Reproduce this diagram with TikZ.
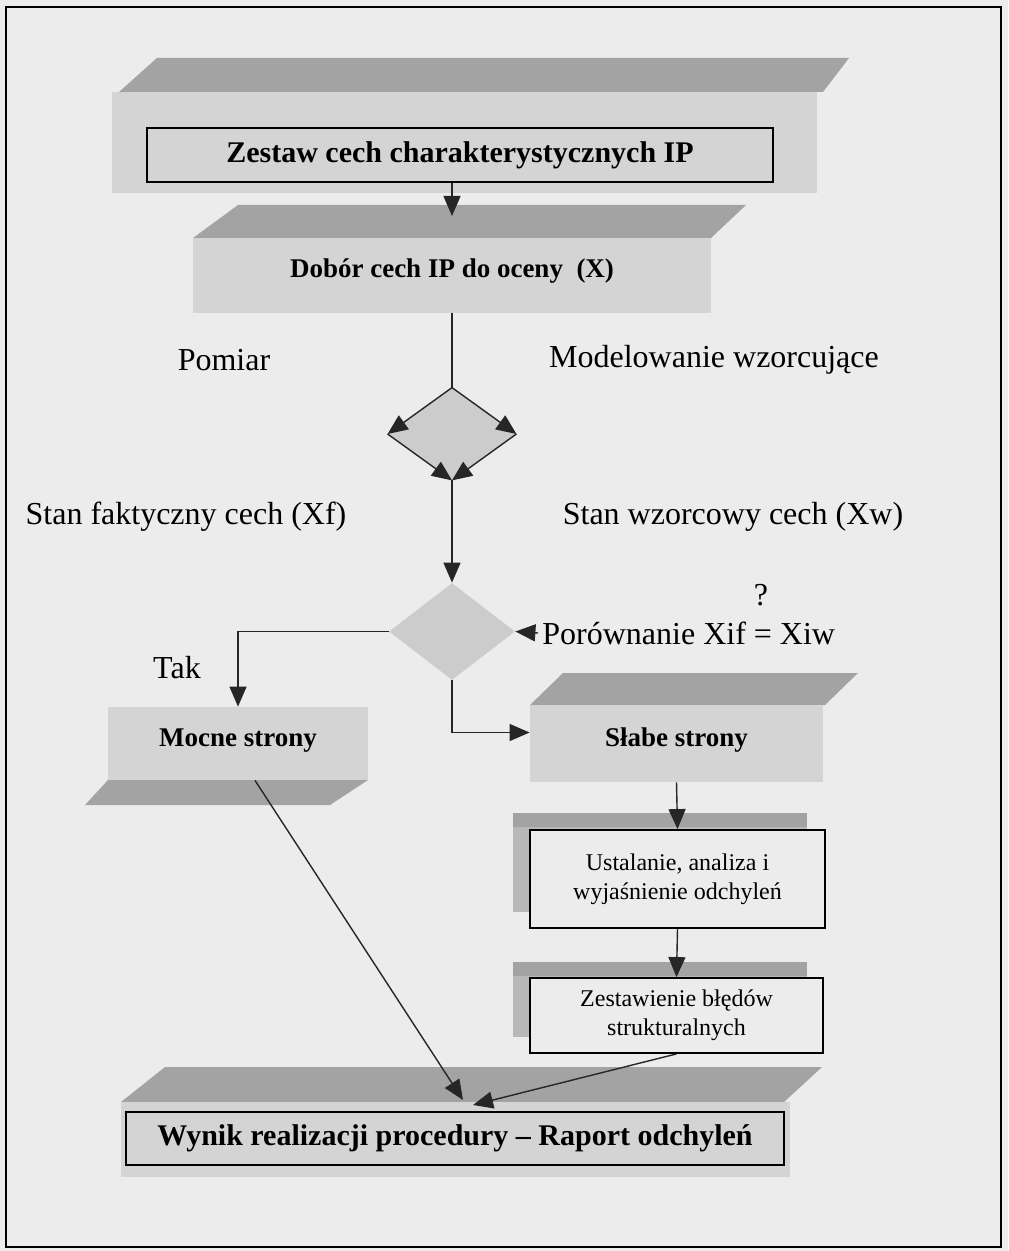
\documentclass[tikz,border=0pt]{standalone}
\usepackage{fontspec}
\setmainfont{Liberation Serif}
\usetikzlibrary{arrows.meta,shapes.geometric}

\definecolor{scanbg}{gray}{0.925}
\definecolor{topgrey}{gray}{0.64}
\definecolor{facegrey}{gray}{0.83}
\definecolor{backgrey}{gray}{0.72}
\definecolor{diagrey}{gray}{0.80}

\tikzset{
    >={Triangle[length=10pt,width=8.5pt]},
    flow/.style={line width=0.7pt,draw=black!85},
    blockface/.style={fill=facegrey,inner sep=0pt,font=\fontsize{13.5}{16}\bfseries\selectfont,text height=9.5pt,text depth=7pt},
    bigbox/.style={draw,line width=0.9pt,inner sep=0pt,font=\fontsize{15}{18}\bfseries\selectfont},
    smallbox/.style={draw,fill=scanbg,line width=0.9pt,inner sep=0pt,align=center,font=\fontsize{12}{14.5}\selectfont},
    plainlabel/.style={inner sep=2pt,font=\fontsize{16}{19}\selectfont},
    decision/.style={diamond,fill=diagrey,inner sep=0pt}
}

\begin{document}
\begin{tikzpicture}[x=0.5pt,y=-0.5pt]
    \fill[scanbg](0,0)rectangle(1008,1251);
    \draw[line width=0.75pt](6,7)rectangle(1001,1247);

    \fill[topgrey](119,92)--(157,58)--(849,58)--(823,92)--cycle;
    \fill[facegrey](112,92)rectangle(817,193);
    \node[bigbox,minimum width=313pt,minimum height=27pt](zestaw)at(460,155){Zestaw cech charakterystycznych IP};

    \fill[topgrey](193,238)--(238,205)--(746,205)--(711,238)--cycle;
    \node[blockface,minimum width=259pt,minimum height=37.5pt](dobor)at(452,275.5){Dobór cech IP do oceny~ (X)};
    \coordinate(dobortop)at(452,216);
    \draw[flow,->](zestaw.south-|dobortop)--(dobortop);

    \node[plainlabel](pomiar)at(224,360){Pomiar};
    \node[plainlabel](model)at(714,360){Modelowanie wzorcujące};

    \node[decision,minimum width=64pt,minimum height=46pt](d1)at(452,434){};
    \draw[flow](dobor.south)--(d1.north);
    \draw[flow,->](d1.north)--(d1.west);
    \draw[flow,->](d1.north)--(d1.east);
    \draw[flow,->](d1.west)--(d1.south);
    \draw[flow,->](d1.east)--(d1.south);

    \node[plainlabel](xf)at(186,517){Stan faktyczny cech (Xf)};
    \node[plainlabel](xw)at(733,517){Stan wzorcowy cech (Xw)};

    \node[decision,minimum width=63pt,minimum height=48.5pt](cmp)at(452,631.5){};
    \draw[flow,->](d1.south)--(cmp.north);
    \node[plainlabel](q)at(761,595){?};
    \node[plainlabel,anchor=west](por)at(538,633){Porównanie Xif = Xiw};
    \draw[flow,->](por.west)--(cmp.east);
    \node[plainlabel](tak)at(177,668){Tak};

    \node[blockface,minimum width=130pt,minimum height=36.5pt](mocne)at(238,743.5){Mocne strony};
    \fill[topgrey](108,780)--(368,780)--(330,805)--(85,805)--cycle;
    \draw[flow,->](cmp.west)-|(mocne.north);

    \fill[topgrey](530,705)--(563,673)--(858,673)--(825,705)--cycle;
    \node[blockface,minimum width=146.5pt,minimum height=38.5pt](slabe)at(676.5,743.5){Słabe strony};
    \draw[flow,->](cmp.south)|-([yshift=5.5pt]slabe.west);

    \fill[backgrey](513,813)rectangle(807,912);
    \fill[topgrey](513,813)rectangle(807,827);
    \node[smallbox,minimum width=147.5pt,minimum height=49pt](ustal)at(677.5,879){Ustalanie, analiza i\\wyjaśnienie odchyleń};
    \draw[flow,->](slabe.south)--(ustal.north);

    \fill[backgrey](513,962)rectangle(807,1037);
    \fill[topgrey](513,962)rectangle(807,976);
    \node[smallbox,minimum width=146.5pt,minimum height=37.5pt](bledy)at(676.5,1015.5){Zestawienie błędów\\strukturalnych};
    \draw[flow,->](ustal.south)--(bledy.north);

    \fill[topgrey](121,1102)--(165,1067)--(822,1067)--(784,1102)--cycle;
    \fill[facegrey](121,1102)rectangle(790,1177);
    \node[bigbox,minimum width=329pt,minimum height=26.5pt](wynik)at(455,1138.5){Wynik realizacji procedury – Raport odchyleń};
    \coordinate(wejscie1)at(463,1100);
    \coordinate(wejscie2)at(473,1105);
    \draw[flow,->]([xshift=8.5pt]mocne.south)--(wejscie1);
    \draw[flow,->](bledy.south)--(wejscie2);
\end{tikzpicture}
\end{document}
